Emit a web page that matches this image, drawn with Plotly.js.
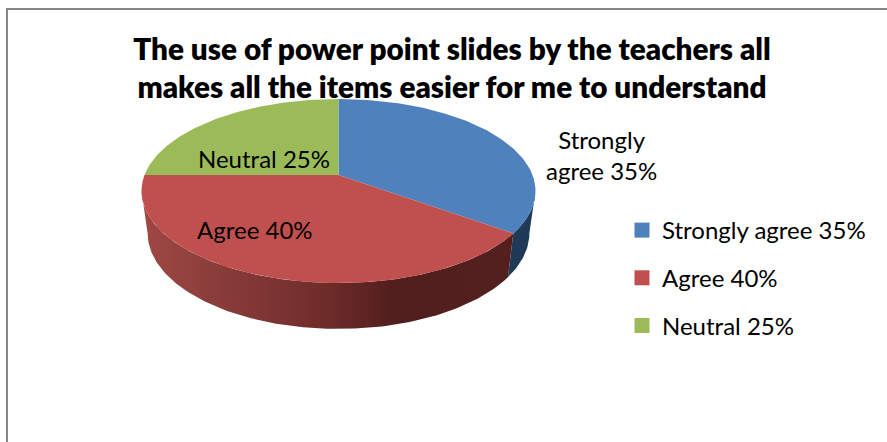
<!DOCTYPE html>
<html>
<head>
<meta charset="utf-8">
<script src="https://cdn.plot.ly/plotly-3.0.0.min.js"></script>
<style>html,body{margin:0;padding:0;background:#fff}</style>
</head>
<body>
<div id="chart" style="width:887px;height:442px"></div>
<script>
const categories = ["Strongly agree", "Agree", "Neutral"];
const values = [35, 40, 25];
const faceColors = ["#4f81bd", "#c0504d", "#9bbb59"];
const chartTitle = "The use of power point slides by the teachers all<br>makes all the items easier for me to understand";
const labels = categories.map((c, i) => c + " " + values[i] + "%");

const FONT = "Lato, 'Open Sans', sans-serif";
const total = values.reduce((a, b) => a + b, 0);
const persp = 0.174;
const topFace = {cx: 338.5, cy: 175, R: 194, Q: 89.2};
const baseFace = {cx: 338.5, cy: 216.3, R: 188, Q: 93};
// the outline of the side wall touches the ellipse where it is widest
const sideFrac = Math.asin(persp) / (2 * Math.PI);

function project(face, frac) {
  const a = frac * 2 * Math.PI, u = Math.sin(a), v = -Math.cos(a), d = 1 - persp * v;
  return [face.cx + face.R * u / d, face.cy + face.Q * v / d];
}
function arc(face, f0, f1) {
  const n = Math.max(2, Math.ceil(Math.abs(f1 - f0) * 360)), pts = [];
  for (let i = 0; i <= n; i++) pts.push(project(face, f0 + (f1 - f0) * i / n));
  return pts;
}
function poly(pts, extra) {
  return Object.assign({
    x: pts.map(p => p[0]), y: pts.map(p => p[1]), type: "scatter", mode: "lines",
    fill: "toself", line: {width: 0}, hoverinfo: "skip", showlegend: false
  }, extra);
}

const starts = [];
values.reduce((acc, v, i) => { starts[i] = acc; return acc + v / total; }, 0);
const ends = starts.map((s, i) => s + values[i] / total);

const traces = [];
// side walls: only the slices that face the viewer
const wallPts = i => {
  const f0 = Math.max(starts[i], 0.25 + sideFrac), f1 = Math.min(ends[i], 0.75 - sideFrac);
  return arc(topFace, f0, f1).concat(arc(baseFace, f1, f0));
};
traces.push(poly(wallPts(0), {fillcolor: "#1f3a57"}));
traces.push(poly(wallPts(1), {
  fillgradient: {type: "horizontal", colorscale: [
    [0, "#a04844"], [0.2, "#8a3d3b"], [0.49, "#6f2c2b"], [0.69, "#4f1e1d"], [1, "#53201f"]
  ]}
}));
// top faces
values.forEach((v, i) => {
  traces.push(poly([[topFace.cx, topFace.cy]].concat(arc(topFace, starts[i], ends[i])), {fillcolor: faceColors[i]}));
});
// legend entries
categories.forEach((c, i) => {
  traces.push({
    x: [null], y: [null], type: "scatter", mode: "markers", name: labels[i], legendgroup: "g" + i,
    marker: {symbol: "square", size: 15, color: faceColors[i]}, hoverinfo: "skip"
  });
});

const ann = (text, x, y) => ({text, x, y, xref: "x", yref: "y", showarrow: false, xanchor: "center", yanchor: "middle",
  font: {family: FONT, size: 24, color: "#000"}});

const layout = {
  width: 887, height: 442, margin: {l: 0, r: 0, t: 0, b: 0},
  paper_bgcolor: "#fff", plot_bgcolor: "#fff",
  title: {text: chartTitle, x: 452 / 887, xanchor: "center", y: 0.865, yanchor: "middle",
    font: {family: FONT, size: 29.7, color: "#000", weight: 800}},
  xaxis: {range: [0, 887], visible: false, fixedrange: true},
  yaxis: {range: [442, 0], visible: false, fixedrange: true},
  showlegend: true,
  legend: {x: 622 / 887, xanchor: "left", y: 1 - 208 / 442, yanchor: "top", tracegroupgap: 13.5,
    font: {family: FONT, size: 24, color: "#000"}, bgcolor: "rgba(0,0,0,0)"},
  annotations: [
    ann(labels[2], 264, 158),
    ann(labels[1], 255, 229),
    ann("Strongly<br>agree 35%", 601, 155)
  ],
  shapes: [
    {type: "line", xref: "x", yref: "y", x0: 7, x1: 7, y0: 8, y1: 442, line: {color: "#868686", width: 2}},
    {type: "line", xref: "x", yref: "y", x0: 6, x1: 887, y0: 9, y1: 9, line: {color: "#868686", width: 2}}
  ]
};
Plotly.newPlot("chart", traces, layout, {displayModeBar: false, staticPlot: true});
</script>
</body>
</html>
